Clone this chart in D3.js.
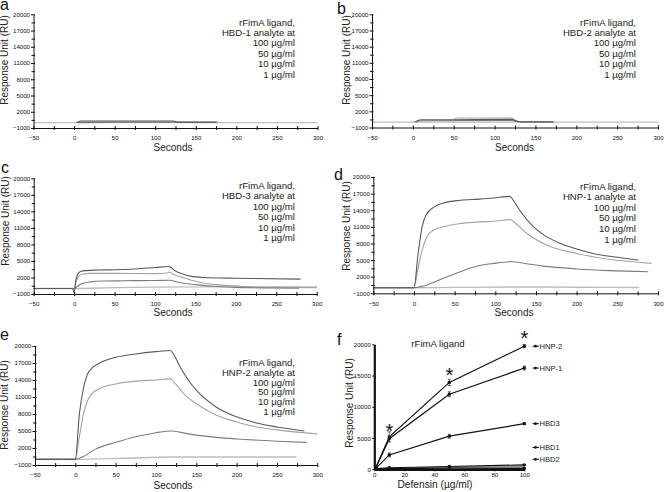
<!DOCTYPE html>
<html><head><meta charset="utf-8">
<script src="https://cdn.jsdelivr.net/npm/d3@7/dist/d3.min.js"></script>
<style>
body{margin:0;background:#fff;}
svg{display:block;font-family:"Liberation Sans",Arial,sans-serif;}
</style></head><body>
<svg id="chart" width="664" height="492"></svg>
<script>
// ---------------- DATA ----------------
const yTickValues = [-1000, 2000, 5000, 8000, 11000, 14000, 17000, 20000];
const yMinorValues = [500, 3500, 6500, 9500, 12500, 15500, 18500];
const xTickValues = [-50, 0, 50, 100, 150, 200, 250, 300];
const xMinorValues = [-25, 25, 75, 125, 175, 225, 275];
const concLabels = ["100 µg/ml", "50 µg/ml", "10 µg/ml", "1 µg/ml"];

// Panel a: HBD-1 sensorgrams [seconds, RU]
const hbd1_100 = [[3,0],[8,300],[123,300],[127,80],[176,80]];
const hbd1_50  = [[5,0],[10,150],[123,150],[127,30],[176,30]];
const hbd1_10  = [[5,0],[60,60],[124,60],[176,20]];
const hbd1_1   = [[-50,0],[100,0],[300,0]];
// Panel b: HBD-2
const hbd2_100 = [[2,0],[10,450],[50,450],[120,500],[130,80],[172,60]];
const hbd2_50  = [[50,400],[53,750],[120,750],[128,150],[135,30],[172,30]];
const hbd2_10  = [[4,0],[10,250],[120,300],[132,30],[172,20]];
const hbd2_1   = [[-50,0],[100,0],[300,0]];
// Panel c: HBD-3
const hbd3_100 = [[-50,0],[-2,0],[0,-800],[2,1500],[5,2700],[8,3100],[15,3250],[30,3350],[50,3400],[75,3550],[100,3800],[117,4000],[120,3800],[125,3200],[135,2600],[145,2200],[160,2000],[200,1850],[280,1700]];
const hbd3_50  = [[-50,0],[0,0],[3,1500],[6,2300],[10,2600],[20,2750],[50,2750],[100,2700],[115,2800],[118,3000],[122,2600],[130,2200],[145,1500],[160,1000],[180,650],[210,350],[250,200],[300,150]];
const hbd3_10  = [[-50,0],[0,0],[5,500],[10,900],[20,1200],[35,1350],[60,1400],[100,1450],[118,1500],[130,1100],[150,700],[175,400],[200,200],[240,100],[278,50]];
const hbd3_1   = [[-50,0],[0,0],[50,150],[100,250],[150,300],[200,300],[250,300],[300,300]];
// Panel d: HNP-1
const hnp1_100 = [[-50,0],[0,0],[5,6000],[10,11000],[15,13200],[25,14600],[36,15300],[57,15800],[80,16000],[98,16200],[118,16500],[122,15800],[130,14000],[147,11000],[160,9500],[180,8000],[200,7000],[220,6200],[250,5500],[276,5000]];
const hnp1_50  = [[-50,0],[0,0],[5,3500],[10,6800],[16,9200],[25,10500],[36,11000],[57,11600],[80,11900],[98,12000],[119,12300],[125,11600],[139,9800],[163,7700],[200,6200],[241,5100],[270,4700],[292,4400]];
const hnp1_10  = [[-50,0],[0,0],[8,200],[16,500],[36,1700],[57,2900],[77,3900],[98,4400],[120,4700],[140,4300],[159,3900],[200,3400],[240,3100],[288,2900]];
const hnp1_1   = [[-50,0],[0,0],[120,150],[200,100],[277,50]];
// Panel e: HNP-2
const hnp2_100 = [[-50,0],[0,0],[5,8000],[10,12500],[15,15000],[20,16000],[30,17000],[50,18000],[75,18600],[100,19000],[118,19200],[122,18500],[130,16300],[140,14000],[150,12200],[175,9200],[200,7500],[225,6400],[250,5700],[284,5000]];
const hnp2_50  = [[-50,0],[0,0],[5,4000],[10,8000],[15,10300],[20,11500],[30,12500],[50,13300],[75,13800],[100,14000],[118,14200],[123,13500],[135,11500],[150,9800],[175,7800],[200,6600],[225,5700],[250,5200],[275,4800],[300,4500]];
const hnp2_10  = [[-50,0],[0,0],[10,500],[25,1800],[50,3000],[75,4000],[100,4700],[120,5000],[140,4500],[160,4100],[200,3600],[250,3200],[287,3000]];
const hnp2_1   = [[-50,0],[0,0],[60,200],[120,400],[200,400],[274,400]];

// Panel f: dose response
const concF = [1, 10, 50, 100];
const fHNP2 = [300, 5200, 13900, 19700], fHNP2err = [100, 800, 500, 250];
const fHNP1 = [250, 4900, 12000, 16200], fHNP1err = [100, 500, 400, 300];
const fHBD3 = [150, 2300, 5300, 7300],   fHBD3err = [60, 300, 300, 150];
const fHBD1 = [100, 250, 450, 700],      fHBD1err = [30, 60, 80, 80];
const fHBD2 = [50, 120, 200, 150],       fHBD2err = [30, 40, 40, 40];
const fNames = ["HNP-2", "HNP-1", "HBD3", "HBD1", "HBD2"];
const fLegendRU = [19700, 16200, 7300, 3500, 1600];
const fXTicks = [0, 20, 40, 60, 80, 100];
const fYTicks = [0, 5000, 10000, 15000, 20000];
const starConc = [10, 50, 100];
const starRU = [6900, 15800, 21700];

// ---------------- DRAW ----------------
const svg = d3.select("#chart");
const FONT = "'Liberation Sans', Arial, sans-serif";
const colors = ["#595959", "#a3a3a3", "#7c7c7c", "#bdbdbd"];
const TICKFS = 6.1;

const panels = [
  {letter:"a", lx:0, ly:9.5, x0:33.5, x1:317.5, yT:14.3, yB:128, tx:295, ty:25.5, tsp:10.4, ytx:7.8, yty:60, stx:173, sty:150.5,
   title:"HBD-1 analyte at", series:[hbd1_100,hbd1_50,hbd1_10,hbd1_1]},
  {letter:"b", lx:337, ly:14, x0:372, x1:658, yT:14.3, yB:127.5, tx:636, ty:25.5, tsp:10.4, ytx:349.5, yty:60, stx:514.5, sty:150.5,
   title:"HBD-2 analyte at", series:[hbd2_100,hbd2_50,hbd2_10,hbd2_1]},
  {letter:"c", lx:1, ly:173, x0:33.7, x1:316.7, yT:178.3, yB:294, tx:295, ty:188.5, tsp:10.5, ytx:8.8, yty:221, stx:173, sty:316,
   title:"HBD-3 analyte at", series:[hbd3_100,hbd3_50,hbd3_10,hbd3_1]},
  {letter:"d", lx:334, ly:180, x0:373.3, x1:658, yT:177, yB:293.3, tx:636, ty:189.5, tsp:10.6, ytx:349.5, yty:226, stx:514, sty:316,
   title:"HNP-1 analyte at", series:[hnp1_100,hnp1_50,hnp1_10,hnp1_1]},
  {letter:"e", lx:0, ly:340, x0:35, x1:317.3, yT:346, yB:465, tx:295, ty:366, tsp:9.8, ytx:7.5, yty:405, stx:173, sty:488.5,
   title:"HNP-2 analyte at", series:[hnp2_100,hnp2_50,hnp2_10,hnp2_1]}
];

panels.forEach(p => {
  const g = svg.append("g");
  const x = d3.scaleLinear().domain([-50, 300]).range([p.x0, p.x1]);
  const y = d3.scaleLinear().domain([-1000, 20000]).range([p.yB, p.yT]);

  // lines (draw 1 µg first so darker lines on top)
  const line = d3.line().x(d => x(d[0])).y(d => y(d[1])).curve(d3.curveMonotoneX);
  [3, 1, 2, 0].forEach(i => {
    g.append("path").datum(p.series[i]).attr("d", line)
      .attr("fill", "none").attr("stroke", colors[i])
      .attr("stroke-width", i === 3 ? 1.4 : 1.1);
  });

  // y axis
  const ya = g.append("g").attr("transform", `translate(${p.x0},0)`)
    .call(d3.axisLeft(y).tickValues(yTickValues).tickFormat(d3.format("d")).tickSizeInner(2.5).tickSizeOuter(0).tickPadding(1));
  ya.selectAll(".tick line").attr("x1", 1.5);
  const ym = g.append("g").attr("transform", `translate(${p.x0},0)`)
    .call(d3.axisLeft(y).tickValues(yMinorValues).tickFormat("").tickSizeOuter(0));
  ym.selectAll(".tick line").attr("x1", 1.5).attr("x2", -2);
  ym.select(".domain").remove();

  // x axis
  const xa = g.append("g").attr("transform", `translate(0,${p.yB})`)
    .call(d3.axisBottom(x).tickValues(xTickValues).tickSizeOuter(0).tickPadding(3));
  xa.selectAll(".tick line").attr("y1", -2).attr("y2", 2);
  const xm = g.append("g").attr("transform", `translate(0,${p.yB})`)
    .call(d3.axisBottom(x).tickValues(xMinorValues).tickFormat("").tickSizeOuter(0));
  xm.selectAll(".tick line").attr("y1", -2).attr("y2", 2);
  xm.select(".domain").remove();

  [ya, ym, xa, xm].forEach(a => {
    a.selectAll("text").attr("font-size", TICKFS).attr("font-family", FONT).attr("fill", "#111");
    a.selectAll("line,path").attr("stroke", "#111").attr("stroke-width", 1);
  });
  xa.selectAll("text").attr("dy", "0.55em");

  // annotation text
  const lines = ["rFimA ligand,", p.title].concat(concLabels);
  lines.forEach((t, i) => {
    g.append("text").attr("x", p.tx).attr("y", p.ty + i * p.tsp)
      .attr("text-anchor", "end").attr("font-size", 9.6).attr("font-family", FONT)
      .attr("fill", "#222").text(t);
  });

  // axis titles
  g.append("text").attr("transform", `translate(${p.ytx},${p.yty}) rotate(-90)`)
    .attr("text-anchor", "middle").attr("font-size", 10).attr("font-family", FONT)
    .attr("fill", "#222").text("Response Unit (RU)");
  g.append("text").attr("x", p.stx).attr("y", p.sty).attr("text-anchor", "middle")
    .attr("font-size", 10).attr("font-family", FONT).attr("fill", "#222").text("Seconds");

  // panel letter
  g.append("text").attr("x", p.lx).attr("y", p.ly).attr("font-size", 16)
    .attr("font-family", FONT).attr("fill", "#111").text(p.letter);
});

// ---------------- Panel f ----------------
{
  const g = svg.append("g");
  const x = d3.scaleLinear().domain([0, 100]).range([374.3, 524.3]);
  const y = d3.scaleLinear().domain([0, 20000]).range([469.3, 344.3]);

  const sets = [
    [fHNP2, fHNP2err], [fHNP1, fHNP1err], [fHBD3, fHBD3err], [fHBD1, fHBD1err], [fHBD2, fHBD2err]
  ];

  // grey wedge between HBD1 and HBD2
  const area = d3.area().x((d, i) => x(concF[i])).y0((d, i) => y(fHBD2[i])).y1(d => y(d));
  g.append("path").datum(fHBD1).attr("d", area).attr("fill", "#9a9a9a");

  const line = d3.line().x((d, i) => x(concF[i])).y(d => y(d));
  sets.forEach(([vals, errs]) => {
    g.append("path").datum(vals).attr("d", line).attr("fill", "none")
      .attr("stroke", "#111").attr("stroke-width", 1.2);
    vals.forEach((v, i) => {
      const cx = x(concF[i]);
      if (i > 0) {
        g.append("line").attr("x1", cx).attr("x2", cx).attr("y1", y(v - errs[i])).attr("y2", y(v + errs[i]))
          .attr("stroke", "#555").attr("stroke-width", 0.9);
        [v - errs[i], v + errs[i]].forEach(e => {
          g.append("line").attr("x1", cx - 1.6).attr("x2", cx + 1.6).attr("y1", y(e)).attr("y2", y(e))
            .attr("stroke", "#555").attr("stroke-width", 0.9);
        });
      }
      g.append("circle").attr("cx", cx).attr("cy", y(v)).attr("r", 1.7).attr("fill", "#111");
    });
  });

  // axes
  const ya = g.append("g").attr("transform", "translate(374.3,0)")
    .call(d3.axisLeft(y).tickValues(fYTicks).tickFormat(d3.format("d")).tickSize(2).tickSizeOuter(0).tickPadding(1.5));
  const xa = g.append("g").attr("transform", "translate(0,469.3)")
    .call(d3.axisBottom(x).tickValues(fXTicks).tickSize(2).tickSizeOuter(0).tickPadding(1));
  [ya, xa].forEach(a => {
    a.selectAll("text").attr("font-size", TICKFS).attr("font-family", FONT).attr("fill", "#111");
    a.selectAll("line").attr("stroke", "#111").attr("stroke-width", 1);
    a.select(".domain").attr("stroke", "#111").attr("stroke-width", 2.2);
  });

  // asterisks
  starConc.forEach((c, i) => {
    g.append("text").attr("x", x(c)).attr("y", y(starRU[i]) + 11.5).attr("text-anchor", "middle")
      .attr("font-size", 20).attr("font-family", FONT).attr("fill", "#111").text("*");
  });

  // legend labels
  fNames.forEach((n, i) => {
    const yy = y(fLegendRU[i]);
    g.append("line").attr("x1", 532.5).attr("x2", 539).attr("y1", yy).attr("y2", yy)
      .attr("stroke", "#111").attr("stroke-width", 1);
    g.append("circle").attr("cx", 535.5).attr("cy", yy).attr("r", 1.4).attr("fill", "#111");
    g.append("text").attr("x", 539.5).attr("y", yy + 2.6).attr("font-size", 7.6)
      .attr("font-family", FONT).attr("fill", "#222").text(n);
  });

  // titles
  g.append("text").attr("x", 438).attr("y", 347).attr("text-anchor", "middle")
    .attr("font-size", 9.6).attr("font-family", FONT).attr("fill", "#222").text("rFimA ligand");
  g.append("text").attr("transform", "translate(352.5,403) rotate(-90)").attr("text-anchor", "middle")
    .attr("font-size", 10).attr("font-family", FONT).attr("fill", "#222").text("Response Unit (RU)");
  g.append("text").attr("x", 435).attr("y", 488).attr("text-anchor", "middle")
    .attr("font-size", 10.2).attr("font-family", FONT).attr("fill", "#222").text("Defensin (µg/ml)");
  g.append("text").attr("x", 337).attr("y", 345).attr("font-size", 16)
    .attr("font-family", FONT).attr("fill", "#111").text("f");
}
</script>
</body></html>
